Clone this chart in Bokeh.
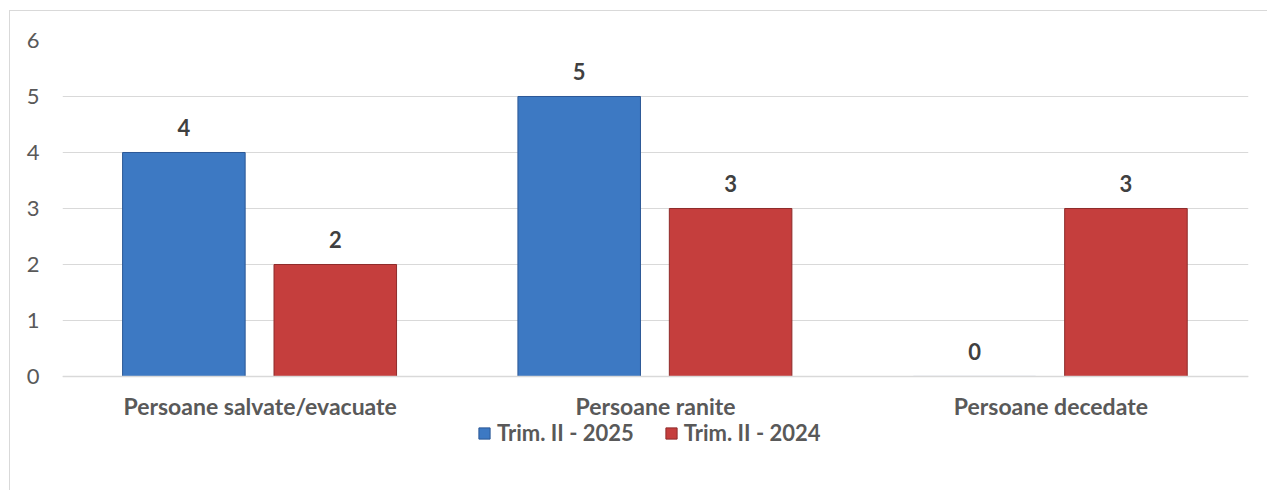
from bokeh.plotting import figure
from bokeh.models import ColumnDataSource, FactorRange, Legend, LegendItem, FixedTicker, Range1d
from bokeh.transform import dodge
from bokeh.core.properties import value
from bokeh.embed import file_html
from bokeh.resources import INLINE

categories = ["Persoane salvate/evacuate", "Persoane ranite", "Persoane decedate"]
trim_2025 = [4, 5, 0]
trim_2024 = [2, 3, 3]
series_names = ["Trim. II - 2025", "Trim. II - 2024"]
y_ticks = [0, 1, 2, 3, 4, 5, 6]

src = ColumnDataSource(dict(
    cat=categories,
    a=trim_2025,
    b=trim_2024,
    a_lbl=[str(v) for v in trim_2025],
    b_lbl=[str(v) for v in trim_2024],
))

FONT = "Lato"

# frame spans 451 px: 6 units = 336 px above the zero line, the rest below
p = figure(
    x_range=FactorRange(*categories, range_padding=0),
    y_range=Range1d(-2.054, 6),
    width=1258, height=480,
    output_backend="svg", toolbar_location=None,
    min_border_left=52, min_border_right=20, min_border_top=29, min_border_bottom=0,
)
p.styles = {"margin-left": "9px", "margin-top": "10px",
            "border-top": "1px solid #d9d9d9", "border-left": "1px solid #d9d9d9"}
p.outline_line_color = None
p.background_fill_color = "white"
p.border_fill_color = "white"

blue = p.vbar(x=dodge("cat", -0.193, range=p.x_range), top="a", width=0.31, source=src,
              fill_color="#3d79c3", line_color="#2b5896", line_width=1)
red = p.vbar(x=dodge("cat", 0.19, range=p.x_range), top="b", width=0.31, source=src,
             fill_color="#c53e3d", line_color="#8e2b2a", line_width=1)

for col, off, lbl in (("a", -0.193, "a_lbl"), ("b", 0.19, "b_lbl")):
    p.text(x=dodge("cat", off, range=p.x_range), y=col, text=lbl, source=src,
           text_align="center", text_baseline="middle", y_offset=-25,
           text_font=value(FONT), text_font_style="bold", text_font_size="22px",
           text_color="#404040")

p.xgrid.grid_line_color = None
p.ygrid.grid_line_color = "#d9d9d9"
p.ygrid.grid_line_width = 1
p.yaxis.ticker = FixedTicker(ticks=y_ticks)
p.yaxis.axis_line_color = None
p.yaxis.major_tick_line_color = None
p.yaxis.major_tick_out = 0
p.yaxis.minor_tick_line_color = None
p.yaxis.major_label_standoff = 23
p.yaxis.major_label_text_font = FONT
p.yaxis.major_label_text_font_size = "22px"
p.yaxis.major_label_text_color = "#595959"

p.xaxis.fixed_location = 0
p.xaxis.axis_line_color = "#d9d9d9"
p.xaxis.axis_line_width = 1.5
p.xaxis.major_tick_line_color = None
p.xaxis.major_tick_out = 0
p.xaxis.minor_tick_line_color = None
p.xaxis.major_label_standoff = 16
p.xaxis.major_label_text_font = FONT
p.xaxis.major_label_text_font_style = "bold"
p.xaxis.major_label_text_font_size = "23px"
p.xaxis.major_label_text_color = "#595959"

legend = Legend(items=[LegendItem(label=series_names[0], renderers=[blue]),
                       LegendItem(label=series_names[1], renderers=[red])],
                orientation="horizontal", location=(415, 45),
                label_text_font=FONT, label_text_font_style="bold",
                label_text_font_size="22px", label_text_color="#595959",
                glyph_width=14, glyph_height=14, spacing=30, label_standoff=6,
                border_line_color=None, background_fill_alpha=0, margin=0, padding=0)
p.add_layout(legend)

open("out.html", "w").write(file_html(p, INLINE))
